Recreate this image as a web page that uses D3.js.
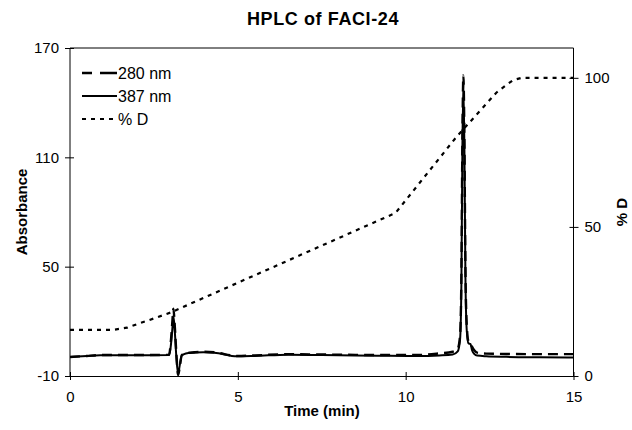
<!DOCTYPE html>
<html>
<head>
<meta charset="utf-8">
<script src="https://cdn.jsdelivr.net/npm/d3@7"></script>
<style>
  body { margin: 0; background: #fff; }
  svg { display: block; font-family: "Liberation Sans", Arial, Helvetica, sans-serif; }
</style>
</head>
<body>
<svg id="chart" width="632" height="430"></svg>
<script>
// ---- data ----
const title = "HPLC of FACI-24";
const xTicks = [0, 5, 10, 15];
const yLeftTicks = [-10, 50, 110, 170];
const yRightTicks = [0, 50, 100];

const timeAbs = [0, 0.5, 0.9, 2.0, 2.95, 3.0, 3.05, 3.08, 3.12, 3.17, 3.22, 3.27, 3.33, 3.45, 3.7, 3.97, 4.3, 4.98, 5.5, 6.5, 7.5, 8.5, 9.5, 10.35, 11.0, 11.4, 11.55, 11.62, 11.66, 11.69, 11.72, 11.75, 11.78, 11.82, 11.87, 11.93, 11.98, 12.05, 12.13, 12.4, 13, 14, 15];
const abs280 = [0.4, 1.0, 1.5, 1.5, 1.6, 8, 20, 27, 18, 2, -9.5, -5, 1.5, 2.5, 3.0, 3.3, 3.0, 1.0, 1.3, 2.0, 1.8, 1.6, 1.5, 1.5, 2.4, 3.3, 5, 12, 45, 120, 155, 120, 50, 18, 9, 8, 6, 4, 2.8, 2.3, 2.1, 2.0, 2.0];
const abs387 = [0.4, 1.0, 1.4, 1.4, 1.5, 6, 16, 23, 15, 0, -9, -4, 1.2, 2.3, 2.8, 3.1, 2.8, 0.8, 1.0, 1.7, 1.5, 1.3, 1.1, 1.0, 1.3, 1.8, 3.5, 10, 40, 115, 150, 115, 45, 15, 8, 7.5, 4, 2, 1.2, 0.8, 0.5, 0.3, 0.2];

const timeD = [0, 1.3, 1.7, 2.0, 2.5, 3.0, 9.7, 11.5, 12.7, 13.0, 13.2, 13.45, 15];
const pctD = [15.5, 15.5, 16.2, 17.4, 19.3, 21.3, 54.7, 80, 95, 97.6, 99.2, 100, 100];

const seriesNames = ["280 nm", "387 nm", "% D"];

// ---- layout ----
const svg = d3.select("#chart");
const L = 70, R = 573.5, T = 48, B = 376;

const x = d3.scaleLinear().domain([0, 15]).range([L, R]);
const yL = d3.scaleLinear().domain([-10, 170]).range([B, T]);
const yR = d3.scaleLinear().domain([0, 110]).range([B, T]);

const tickFont = 15;
const fmt = d => String(d);

// frame top line
svg.append("line").attr("x1", L).attr("x2", R).attr("y1", T).attr("y2", T)
  .attr("stroke", "#000").attr("stroke-width", 1);

// axes
const gx = svg.append("g").attr("transform", `translate(0,${B})`)
  .call(d3.axisBottom(x).tickValues(xTicks).tickFormat(fmt).tickSizeInner(4).tickSizeOuter(0).tickPadding(11));
gx.selectAll(".tick line").attr("y1", -4);

const gyl = svg.append("g").attr("transform", `translate(${L},0)`)
  .call(d3.axisLeft(yL).tickValues(yLeftTicks).tickFormat(fmt).tickSizeInner(5).tickSizeOuter(0).tickPadding(6));
gyl.selectAll(".tick line").attr("x1", 4);

const gyr = svg.append("g").attr("transform", `translate(${R},0)`)
  .call(d3.axisRight(yR).tickValues(yRightTicks).tickFormat(fmt).tickSizeInner(5).tickSizeOuter(0).tickPadding(6));
gyr.selectAll(".tick line").attr("x1", -4);

[gx, gyl, gyr].forEach(g => {
  g.selectAll("text").attr("font-size", tickFont).attr("fill", "#000")
    .attr("font-family", '"Liberation Sans", Arial, sans-serif');
  g.selectAll("path, line").attr("stroke", "#000").attr("stroke-width", 1);
});
gyl.select(".domain").attr("d", `M0,${T}V${B}`);
gyr.select(".domain").attr("d", `M0,${T}V${B}`);

// lines
const clipId = "plotclip";
svg.append("clipPath").attr("id", clipId).append("rect")
  .attr("x", L).attr("y", T - 2).attr("width", R - L).attr("height", B - T + 2);

const plot = svg.append("g").attr("clip-path", `url(#${clipId})`);

const lineD = d3.line().x((d, i) => x(timeD[i])).y(d => yR(d)).curve(d3.curveLinear);
const line387 = d3.line().x((d, i) => x(timeAbs[i])).y(d => yL(d)).curve(d3.curveMonotoneX);
const line280 = d3.line().x((d, i) => x(timeAbs[i])).y(d => yL(d)).curve(d3.curveMonotoneX);

const styles = [
  { dash: "10,6", legendDash: "10,8,20", width: 2.4 },
  { dash: null, legendDash: null, width: 2 },
  { dash: "4,5", legendDash: "4,5", width: 2.2 }
];

plot.append("path").datum(pctD).attr("d", lineD)
  .attr("fill", "none").attr("stroke", "#000").attr("stroke-width", styles[2].width)
  .attr("stroke-dasharray", styles[2].dash);
plot.append("path").datum(abs387).attr("d", line387)
  .attr("fill", "none").attr("stroke", "#000").attr("stroke-width", styles[1].width);
plot.append("path").datum(abs280).attr("d", line280)
  .attr("fill", "none").attr("stroke", "#000").attr("stroke-width", styles[0].width)
  .attr("stroke-dasharray", styles[0].dash);

// legend
const leg = svg.append("g");
seriesNames.forEach((name, i) => {
  const yy = 73 + i * 23;
  const ln = leg.append("line").attr("x1", 82).attr("x2", 117).attr("y1", yy).attr("y2", yy)
    .attr("stroke", "#000").attr("stroke-width", styles[i].width);
  if (styles[i].legendDash) ln.attr("stroke-dasharray", styles[i].legendDash);
  leg.append("text").attr("x", 118).attr("y", yy).attr("dy", "0.35em")
    .attr("font-size", 16).text(name);
});

// titles
svg.append("text").attr("x", 323).attr("y", 25).attr("text-anchor", "middle")
  .attr("font-size", 18).attr("letter-spacing", 0.6).attr("font-weight", "bold").text(title);
svg.append("text").attr("x", 322).attr("y", 416).attr("text-anchor", "middle")
  .attr("font-size", 15).attr("font-weight", "bold").text("Time (min)");
svg.append("text").attr("transform", "translate(27,212) rotate(-90)").attr("text-anchor", "middle")
  .attr("font-size", 15).attr("font-weight", "bold").text("Absorbance");
svg.append("text").attr("transform", "translate(627,212) rotate(-90)").attr("text-anchor", "middle")
  .attr("font-size", 15).attr("font-weight", "bold").text("% D");
</script>
</body>
</html>
